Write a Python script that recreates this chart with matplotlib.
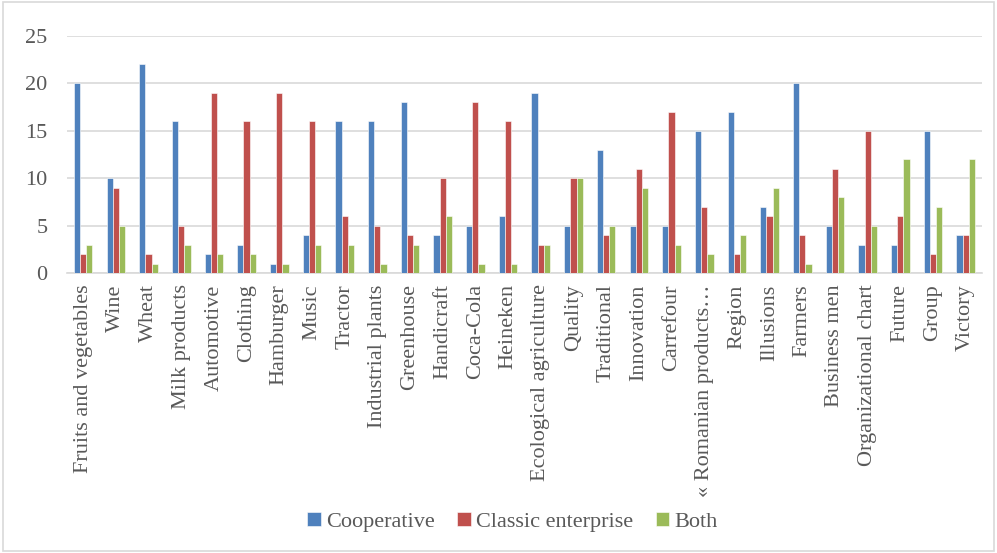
import numpy as np
import matplotlib
matplotlib.use("Agg")
import matplotlib.pyplot as plt
from matplotlib.patches import Rectangle

categories = ["Fruits and vegetables", "Wine", "Wheat", "Milk products", "Automotive",
              "Clothing", "Hamburger", "Music", "Tractor", "Industrial plants",
              "Greenhouse", "Handicraft", "Coca-Cola", "Heineken", "Ecological agriculture",
              "Quality", "Traditional", "Innovation", "Carrefour", "« Romanian products…",
              "Region", "Illusions", "Farmers", "Business men", "Organizational chart",
              "Future", "Group", "Victory"]
cooperative = [20, 10, 22, 16, 2, 3, 1, 4, 16, 16, 18, 4, 5, 6, 19, 5, 13, 5, 5, 15, 17, 7, 20, 5, 3, 3, 15, 4]
classic = [2, 9, 2, 5, 19, 16, 19, 16, 6, 5, 4, 10, 18, 16, 3, 10, 4, 11, 17, 7, 2, 6, 4, 11, 15, 6, 2, 4]
both = [3, 5, 1, 3, 2, 2, 1, 3, 3, 1, 3, 6, 1, 1, 3, 10, 5, 9, 3, 2, 4, 9, 1, 8, 5, 12, 7, 12]

plt.rcParams['font.family'] = ['Liberation Serif', 'DejaVu Serif']
text_color = '#595959'

fig = plt.figure(figsize=(9.97, 5.53), dpi=100)
fig.patches.append(Rectangle((0.003, 0.004), 0.994, 0.992, transform=fig.transFigure,
                             fill=False, edgecolor='#d9d9d9', linewidth=1.2))
ax = fig.add_axes([0.067, 0.506, 0.918, 0.429])

x = np.arange(len(categories))
w = 0.19
series = [(cooperative, '#4F81BD', 'Cooperative'),
          (classic, '#C0504D', 'Classic enterprise'),
          (both, '#9BBB59', 'Both')]
for i, (vals, col, lab) in enumerate(series):
    ax.bar(x + (i - 1) * w, vals, width=w, color=col, edgecolor='white', linewidth=0.4, label=lab, zorder=3)

ax.set_xlim(-0.5, len(categories) - 0.5)
ax.set_ylim(0, 25)
ax.set_yticks(range(0, 26, 5))
ax.yaxis.grid(True, color='#d9d9d9', linewidth=1.2, zorder=0)
for s in ['top', 'right', 'left']:
    ax.spines[s].set_visible(False)
ax.spines['bottom'].set_color('#d9d9d9')
ax.spines['bottom'].set_linewidth(1.2)
ax.tick_params(axis='both', length=0, colors=text_color, labelsize=16)
ax.tick_params(axis='y', pad=14)
ax.tick_params(axis='x', pad=8)
ax.set_xticks(x)
ax.set_xticklabels(categories, rotation=90, va='top', ha='center')

leg = ax.legend(loc='center', bbox_to_anchor=(0.487, -1.05), ncol=3, frameon=False,
                fontsize=16, handlelength=0.6, handleheight=0.6,
                handletextpad=0.25, columnspacing=1.0)
for t in leg.get_texts():
    t.set_fontfamily('Liberation Serif')
    t.set_color(text_color)

fig.savefig('out.png', dpi=100)
